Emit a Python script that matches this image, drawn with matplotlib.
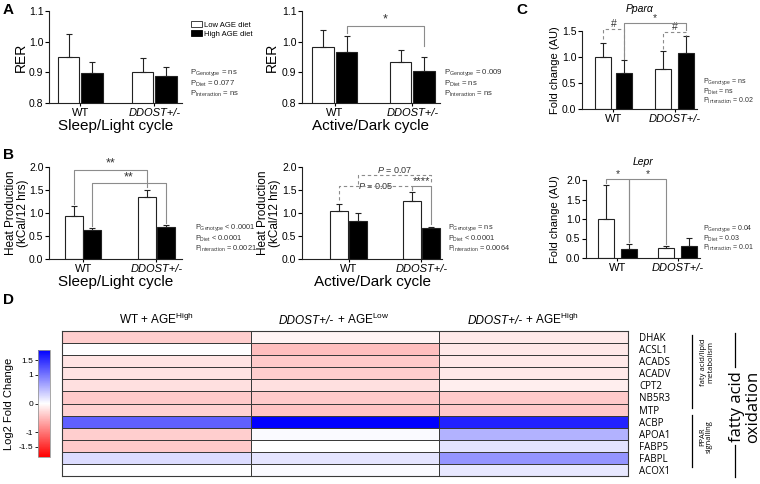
import numpy as np
import matplotlib
matplotlib.use("Agg")
import matplotlib.pyplot as plt
from matplotlib.colors import LinearSegmentedColormap
from matplotlib.lines import Line2D
from matplotlib.patches import Patch
from matplotlib.ticker import FormatStrFormatter

plt.rcParams['font.family'] = ['Liberation Sans', 'DejaVu Sans']
plt.rcParams['mathtext.fontset'] = 'custom'
plt.rcParams['mathtext.rm'] = 'Liberation Sans'
plt.rcParams['mathtext.it'] = 'Liberation Sans:italic'
plt.rcParams['mathtext.bf'] = 'Liberation Sans:bold'

# ---- data (order: WT low, WT high, DDOST low, DDOST high) ----
groups = ["WT", "DDOST+/-"]
diet_labels = ["Low AGE diet", "High AGE diet"]

rer_light_mean = [0.949, 0.897, 0.902, 0.889]
rer_light_err = [0.076, 0.036, 0.044, 0.028]
rer_dark_mean = [0.982, 0.966, 0.934, 0.904]
rer_dark_err = [0.057, 0.052, 0.038, 0.045]

heat_light_mean = [0.93, 0.63, 1.35, 0.70]
heat_light_err = [0.22, 0.04, 0.16, 0.04]
heat_dark_mean = [1.04, 0.82, 1.27, 0.67]
heat_dark_err = [0.15, 0.19, 0.18, 0.035]

ppara_mean = [1.0, 0.70, 0.76, 1.07]
ppara_err = [0.26, 0.24, 0.36, 0.33]
lepr_mean = [1.0, 0.23, 0.25, 0.31]
lepr_err = [0.88, 0.13, 0.06, 0.20]

p_rer_light = ["= ns", "= 0.077", "= ns"]
p_rer_dark = ["= 0.009", "= ns", "= ns"]
p_heat_light = ["< 0.0001", "< 0.0001", "= 0.0021"]
p_heat_dark = ["= ns", "< 0.0001", "= 0.0064"]
p_ppara = ["= ns", "= ns", "= 0.02"]
p_lepr = ["= 0.04", "= 0.03", "= 0.01"]

genes = ["DHAK", "ACSL1", "ACADS", "ACADV", "CPT2", "NB5R3", "MTP",
         "ACBP", "APOA1", "FABP5", "FABPL", "ACOX1"]
cond_genotype = ["WT", "DDOST+/-", "DDOST+/-"]
cond_diet = ["High", "Low", "High"]
lfc_wt_high = [-0.36, 0.0, -0.2, -0.2, -0.22, -0.38, -0.33, 1.15, -0.36, -0.38, 0.25, 0.0]
lfc_ddost_low = [-0.08, -0.47, -0.38, -0.36, -0.22, -0.38, -0.42, 1.85, 0.03, 0.0, 0.2, 0.03]
lfc_ddost_high = [-0.15, -0.16, -0.16, -0.17, -0.12, -0.38, -0.38, 1.6, 0.55, 0.2, 0.78, 0.16]
cbar_ticks = [-1.5, -1, 0, 1, 1.5]

W, H = 760, 484
fig = plt.figure(figsize=(W / 100, H / 100), dpi=100)


def box(l, t, r, b):
    return [l / W, 1 - b / H, (r - l) / W, (b - t) / H]


def ftext(x, y, s, **kw):
    return fig.text(x / W, 1 - y / H, s, **kw)


def bar_panel(rect, mean, err, pos, width, xlim, ylim, yticks, ylabel, lab_x, lab_fs=10):
    ax = fig.add_axes(rect)
    ax.bar(pos, mean, width=width, color=["white", "black", "white", "black"],
           edgecolor="#222222", linewidth=0.8, zorder=2)
    ax.errorbar(pos, mean, yerr=[np.zeros(len(err)), err], fmt="none",
                ecolor="#222222", elinewidth=0.8, capsize=2.5, capthick=0.8, zorder=3)
    ax.set_xlim(xlim)
    ax.set_ylim(ylim)
    ax.set_yticks(yticks)
    ax.yaxis.set_major_formatter(FormatStrFormatter("%.1f"))
    centers = [(pos[0] + pos[1]) / 2, (pos[2] + pos[3]) / 2]
    ax.set_xticks(centers)
    ax.set_xticklabels(groups, fontsize=8)
    ax.get_xticklabels()[1].set_style("italic")
    for s in ["top", "right"]:
        ax.spines[s].set_visible(False)
    for s in ["left", "bottom"]:
        ax.spines[s].set_linewidth(0.8)
        ax.spines[s].set_color("#222222")
    ax.tick_params(axis="y", labelsize=7.5, length=3, width=0.8, pad=1)
    ax.tick_params(axis="x", length=2, width=0.8, pad=1.5)
    ax.set_ylabel(ylabel, fontsize=lab_fs, linespacing=1.0)
    ax.yaxis.set_label_coords(lab_x, 0.5)
    return ax


def bracket(ax, x1, x2, y, y1, y2, label, dashed=False, fs=9, center=False):
    ls = (0, (3, 2.5)) if dashed else "-"
    ax.plot([x1, x1, x2, x2], [y1, y, y, y2], color="#8c8c8c", lw=0.8, ls=ls,
            clip_on=False, zorder=4)
    ax.text((x1 + x2) / 2, y, label, ha="center", va="center" if center else "bottom",
            fontsize=fs, color="#333333")


def pvals(x, y, vals, fs=5.6, step=10.5):
    names = ["Genotype", "Diet", "Interaction"]
    for i, (n, v) in enumerate(zip(names, vals)):
        ftext(x, y + i * step, r"P$_{\mathrm{%s}}$ %s" % (n, v), fontsize=fs,
              va="center", color="#333333")


# ---- A ----
axA1 = bar_panel(box(49, 11, 182, 103), rer_light_mean, rer_light_err,
                 [0, 1, 3.15, 4.15], 0.92, (-0.83, 4.83), (0.8, 1.1),
                 [0.8, 0.9, 1.0, 1.1], "RER", -0.16)
axA1.set_xlabel("Sleep/Light cycle", fontsize=11, labelpad=1)
axA1.legend(handles=[Patch(facecolor="white", edgecolor="#222222", lw=0.6),
                     Patch(facecolor="black", edgecolor="black", lw=0.6)],
            labels=diet_labels, loc="upper left", frameon=False, fontsize=5.5,
            bbox_to_anchor=(188 / W, 1 - 18 / H), bbox_transform=fig.transFigure,
            handlelength=1.4, handleheight=0.8, handletextpad=0.3, labelspacing=0.2,
            borderaxespad=0)
pvals(190, 73, p_rer_light)

axA2 = bar_panel(box(302, 11, 440, 103), rer_dark_mean, rer_dark_err,
                 [0, 1, 3.3, 4.3], 0.92, (-0.9, 4.98), (0.8, 1.1),
                 [0.8, 0.9, 1.0, 1.1], "RER", -0.17)
axA2.set_xlabel("Active/Dark cycle", fontsize=11, labelpad=1)
bracket(axA2, 1, 4.3, 1.052, 1.027, 0.985, "*")
pvals(444, 73, p_rer_dark)

# ---- B ----
hp_label = "Heat Production\n(kCal/12 hrs)"
axB1 = bar_panel(box(49, 167, 182, 259), heat_light_mean, heat_light_err,
                 [0, 1, 3.95, 4.95], 0.97, (-1.35, 5.84), (0, 2.0),
                 [0, 0.5, 1.0, 1.5, 2.0], hp_label, -0.15, 8.5)
axB1.set_xlabel("Sleep/Light cycle", fontsize=11, labelpad=1)
bracket(axB1, 0, 3.95, 1.94, 1.2, 1.57, "**")
bracket(axB1, 1, 4.95, 1.65, 0.72, 0.79, "**")
pvals(195, 228, p_heat_light, fs=5.3)

axB2 = bar_panel(box(302, 167, 442, 259), heat_dark_mean, heat_dark_err,
                 [0, 1, 3.84, 4.84], 0.97, (-1.95, 5.42), (0, 2.0),
                 [0, 0.5, 1.0, 1.5, 2.0], hp_label, -0.15, 8.5)
axB2.set_xlabel("Active/Dark cycle", fontsize=11, labelpad=1)
bracket(axB2, 0, 3.84, 1.58, 1.28, 1.5, r"$\it{P}$ = 0.05", dashed=True, fs=6.5, center=True)
bracket(axB2, 1, 4.84, 1.83, 1.64, 1.66, r"$\it{P}$ = 0.07", dashed=True, fs=6.5)
bracket(axB2, 3.84, 4.84, 1.58, 1.5, 0.76, "****", fs=8)
pvals(448, 228, p_heat_dark, fs=5.3)

# ---- C ----
fc_label = "Fold change (AU)"
axC1 = bar_panel(box(582, 31, 697, 109), ppara_mean, ppara_err,
                 [0, 0.95, 2.73, 3.77], 0.72, (-0.95, 4.27), (0, 1.5),
                 [0, 0.5, 1.0, 1.5], fc_label, -0.19, 8)
axC1.set_title("Pparα", style="italic", fontsize=7.5, pad=14)
bracket(axC1, 0, 0.95, 1.54, 1.35, 0.97, "#", dashed=True, fs=7.5)
bracket(axC1, 2.73, 3.77, 1.48, 1.15, 1.41, "#", dashed=True, fs=7.5)
bracket(axC1, 0.95, 3.77, 1.66, 0.97, 1.52, "*", fs=7.5)
pvals(703, 82, p_ppara, fs=5.0, step=9.5)

axC2 = bar_panel(box(586, 180, 700, 258), lepr_mean, lepr_err,
                 [0, 1.05, 2.73, 3.77], 0.72, (-0.9, 4.27), (0, 2.0),
                 [0, 0.5, 1.0, 1.5, 2.0], fc_label, -0.23, 8)
axC2.set_title("Lepr", style="italic", fontsize=7.5, pad=11)
bracket(axC2, 0, 1.05, 2.02, 1.92, 0.4, "*", fs=7.5)
bracket(axC2, 1.05, 2.73, 2.02, 0.4, 0.35, "*", fs=7.5)
pvals(703, 229, p_lepr, fs=5.0, step=9.5)

# ---- D heatmap ----
lfc = np.array([lfc_wt_high, lfc_ddost_low, lfc_ddost_high]).T
cmap = LinearSegmentedColormap.from_list("rwb", ["#ff0000", "#ffffff", "#0000ff"])
axD = fig.add_axes(box(62, 331, 628, 476))
mesh = axD.pcolormesh(lfc, cmap=cmap, vmin=-1.85, vmax=1.85,
                      edgecolors="#3a3a3a", linewidth=0.6)
axD.set_ylim(len(genes), 0)
axD.set_xlim(0, 3)
axD.set_xticks([])
axD.yaxis.tick_right()
axD.set_yticks(np.arange(len(genes)) + 0.5)
axD.set_yticklabels(genes, fontsize=7, family=["Open Sans", "DejaVu Sans"])
axD.tick_params(axis="y", length=0, pad=8)
for s in axD.spines.values():
    s.set_linewidth(0.8)
    s.set_color("#3a3a3a")
# column headers: italic genotype when mutant, superscript diet
for j, (g, d) in enumerate(zip(cond_genotype, cond_diet)):
    if g == "WT":
        axD.text(j + 0.5, -0.55, g + r" + AGE$^{\mathrm{%s}}$" % d, ha="center",
                 va="baseline", fontsize=8.5)
    else:
        split = j + 0.44
        axD.text(split, -0.55, g, style="italic", ha="right", va="baseline", fontsize=8.5)
        axD.text(split, -0.55, r" + AGE$^{\mathrm{%s}}$" % d, ha="left", va="baseline",
                 fontsize=8.5)

cax = fig.add_axes(box(38, 350, 50, 457))
cb = fig.colorbar(mesh, cax=cax)
cb.set_ticks(cbar_ticks)
cb.set_ticklabels(["-1.5", "-1", "0", "1", "1.5"])
cax.yaxis.set_ticks_position("left")
cax.yaxis.set_label_position("left")
cax.tick_params(labelsize=6, length=2.5, width=0.6, pad=1)
cb.outline.set_linewidth(0.6)
cb.outline.set_edgecolor("#999999")
cb.set_label("Log2 Fold Change", fontsize=8, labelpad=3)

# group annotations on the right of the heatmap
for (x, y0, y1) in [(692, 335, 408), (692, 415, 467), (735, 333, 367), (735, 445, 477)]:
    fig.add_artist(Line2D([x / W, x / W], [1 - y0 / H, 1 - y1 / H], color="black", lw=0.9))
ftext(707, 362, "faty acid/lipid\nmetabolism", rotation=90, ha="center", va="center",
      fontsize=5.5, family=["Open Sans", "DejaVu Sans"], linespacing=1.0)
ftext(706, 437, "PPAR\nsignalling", rotation=90, ha="center", va="center",
      fontsize=5.5, family=["Open Sans", "DejaVu Sans"], linespacing=1.0)
ftext(745, 407, "fatty acid\noxidation", rotation=90, ha="center", va="center",
      fontsize=12, family=["Open Sans", "DejaVu Sans"], linespacing=0.95)

# panel letters
for (x, y, s) in [(3, 3, "A"), (3, 148, "B"), (516, 3, "C"), (3, 293, "D")]:
    ftext(x, y, s, fontsize=11, fontweight="bold", va="top")

fig.savefig("out.png", dpi=100)
